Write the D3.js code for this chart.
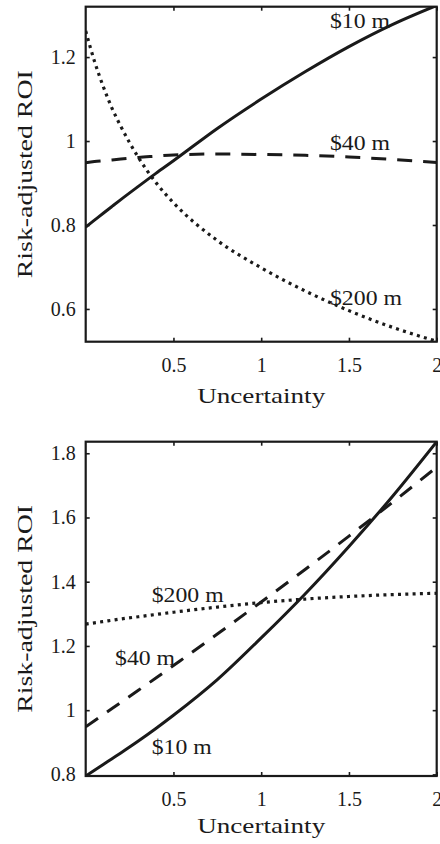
<!DOCTYPE html>
<html>
<head>
<meta charset="utf-8">
<script src="https://cdn.jsdelivr.net/npm/d3@7"></script>
<style>
  body { margin: 0; background: #fff; }
  svg { display: block; }
  text { font-family: "Liberation Serif", "DejaVu Serif", serif; fill: #1a1a1a; }
</style>
</head>
<body>
<script>
// values
var uncertainty = [0, 0.05, 0.1, 0.15, 0.2, 0.3, 0.4, 0.5, 0.75, 1, 1.25, 1.5, 1.75, 2];

// upper panel
var top10  = [0.795, 0.8115, 0.828, 0.8443, 0.8605, 0.892, 0.923, 0.953, 1.03, 1.1, 1.165, 1.225, 1.278, 1.323];
var top40  = [0.948, 0.951, 0.953, 0.955, 0.957, 0.961, 0.964, 0.967, 0.969, 0.968, 0.966, 0.962, 0.956, 0.949];
var top200 = [1.262, 1.19, 1.13, 1.078, 1.035, 0.961, 0.901, 0.853, 0.763, 0.698, 0.643, 0.596, 0.556, 0.523];

// lower panel
var bottom10  = [0.795, 0.813, 0.831, 0.849, 0.867, 0.904, 0.943, 0.984, 1.095, 1.225, 1.362, 1.51, 1.667, 1.836];
var bottom40  = [0.948, 0.967, 0.986, 1.005, 1.024, 1.062, 1.1, 1.139, 1.237, 1.337, 1.438, 1.542, 1.648, 1.757];
var bottom200 = [1.268, 1.272, 1.276, 1.28, 1.284, 1.291, 1.298, 1.305, 1.321, 1.335, 1.346, 1.354, 1.36, 1.364];

var seriesNames = ["$10 m", "$40 m", "$200 m"];
var xTicks = [0.5, 1, 1.5, 2];
var topYTicks = [0.6, 0.8, 1, 1.2];
var bottomYTicks = [0.8, 1, 1.2, 1.4, 1.6, 1.8];
var xTitle = "Uncertainty";
var yTitle = "Risk-adjusted ROI";

var svgWidth = 440;
var svgHeight = 844;

var svg = d3.select("body")
  .append("svg")
  .attr("width", svgWidth)
  .attr("height", svgHeight);

// line styles per series: solid, dashed, dotted
var dashes = [null, "15,11", "3,4.3"];
var widths = [3, 3, 3.2];

function drawPanel(opts) {
  var left = 85.7, right = 436.7;
  var width = right - left;
  var height = opts.bottom - opts.top;

  var g = svg.append("g")
    .attr("transform", `translate(${left}, ${opts.top})`);

  var x = d3.scaleLinear().domain([0, 2]).range([0, width]);
  var y = d3.scaleLinear().domain(opts.yDomain).range([height, 0]);

  var clipId = "clip" + opts.name;
  g.append("clipPath").attr("id", clipId)
    .append("rect").attr("width", width).attr("height", height);

  var fmt = function(d) { return String(d); };

  // bottom axis with labels, ticks pointing in
  var bx = g.append("g")
    .attr("transform", `translate(0, ${height})`)
    .call(d3.axisBottom(x).tickValues(xTicks).tickSize(-4).tickPadding(16).tickFormat(fmt));
  // top axis ticks only
  var tx = g.append("g")
    .call(d3.axisTop(x).tickValues(xTicks).tickSize(-4).tickFormat(""));
  // left axis
  var ly = g.append("g")
    .call(d3.axisLeft(y).tickValues(opts.yTicks).tickSize(-4).tickPadding(10).tickFormat(fmt));
  // right axis ticks only
  var ry = g.append("g")
    .attr("transform", `translate(${width}, 0)`)
    .call(d3.axisRight(y).tickValues(opts.yTicks).tickSize(-4).tickFormat(""));

  [bx, tx, ly, ry].forEach(function(a) {
    a.attr("font-family", null).attr("font-size", null);
    a.select(".domain").remove();
    a.selectAll("line").attr("stroke", "#1a1a1a").attr("stroke-width", 1.6);
    a.selectAll("text")
      .attr("fill", "#1a1a1a")
      .style("font-family", "'Liberation Serif', serif")
      .style("font-size", "20px");
  });

  var line = d3.line()
    .x(function(d) { return x(d[0]); })
    .y(function(d) { return y(d[1]); })
    .curve(d3.curveMonotoneX);

  opts.series.forEach(function(vals, i) {
    var pts = uncertainty.map(function(u, k) { return [u, vals[k]]; });
    g.append("path")
      .datum(pts)
      .attr("clip-path", `url(#${clipId})`)
      .attr("fill", "none")
      .attr("stroke", "#1a1a1a")
      .attr("stroke-width", widths[i])
      .attr("stroke-dasharray", dashes[i])
      .attr("d", line);
  });

  // frame
  g.append("rect")
    .attr("width", width)
    .attr("height", height)
    .attr("fill", "none")
    .attr("stroke", "#1a1a1a")
    .attr("stroke-width", 2.2);

  // series labels
  opts.labels.forEach(function(l) {
    g.append("text")
      .attr("x", x(l.x))
      .attr("y", y(l.y))
      .attr("textLength", l.len)
      .attr("lengthAdjust", "spacingAndGlyphs")
      .style("font-size", "21px")
      .text(seriesNames[l.s]);
  });

  // x title
  g.append("text")
    .attr("x", width / 2)
    .attr("y", height + opts.xTitleGap)
    .attr("text-anchor", "middle")
    .attr("textLength", 128)
    .attr("lengthAdjust", "spacingAndGlyphs")
    .style("font-size", "22px")
    .text(xTitle);

  // y title
  g.append("text")
    .attr("transform", `translate(${32 - left}, ${height / 2}) rotate(-90)`)
    .attr("text-anchor", "middle")
    .attr("textLength", 208)
    .attr("lengthAdjust", "spacingAndGlyphs")
    .style("font-size", "22px")
    .text(yTitle);
}

drawPanel({
  name: "top",
  top: 6.7,
  bottom: 341.7,
  yDomain: [0.522, 1.32],
  yTicks: topYTicks,
  series: [top10, top40, top200],
  xTitleGap: 61.6,
  labels: [
    { s: 0, x: 1.392, y: 1.269, len: 60 },
    { s: 1, x: 1.392, y: 0.978, len: 60 },
    { s: 2, x: 1.392, y: 0.61, len: 72 }
  ]
});

drawPanel({
  name: "bottom",
  top: 441.7,
  bottom: 776,
  yDomain: [0.795, 1.836],
  yTicks: bottomYTicks,
  series: [bottom10, bottom40, bottom200],
  xTitleGap: 57.3,
  labels: [
    { s: 0, x: 0.376, y: 0.865, len: 60 },
    { s: 1, x: 0.1675, y: 1.14, len: 60 },
    { s: 2, x: 0.376, y: 1.337, len: 72 }
  ]
});
</script>
</body>
</html>
